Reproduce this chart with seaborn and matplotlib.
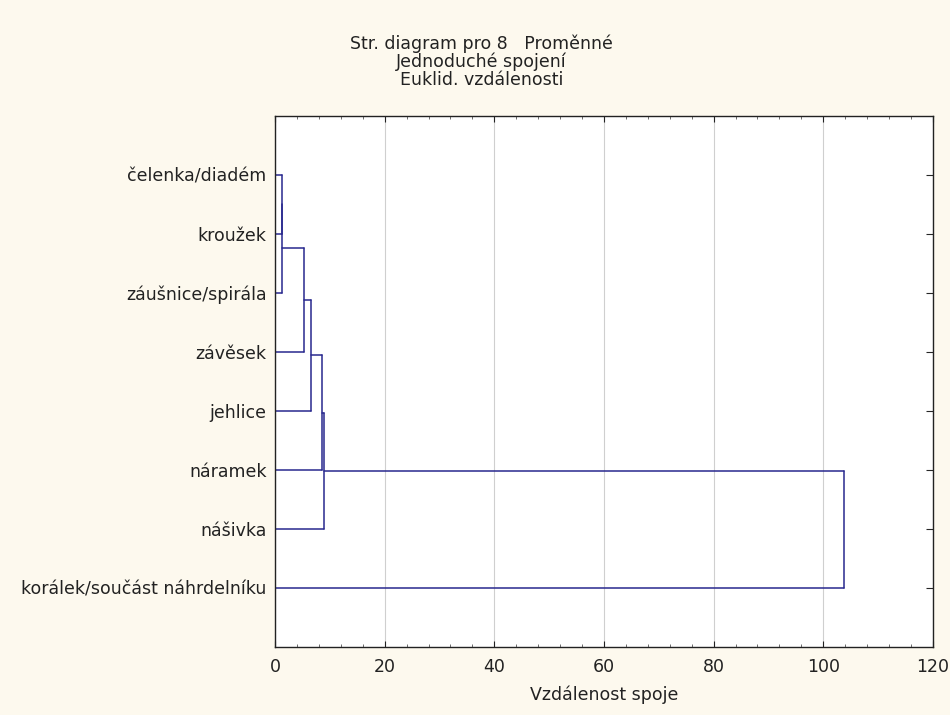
import matplotlib
matplotlib.use("Agg")
import matplotlib.pyplot as plt
import seaborn as sns
import pandas as pd
import numpy as np
from matplotlib.ticker import MultipleLocator

# ---- data ----
leaves = ["čelenka/diadém", "kroužek", "záušnice/spirála", "závěsek",
          "jehlice", "náramek", "nášivka", "korálek/součást náhrdelníku"]
# merges (scipy-style cluster ids: leaves 0..7, new clusters 8..)
merge_pairs = [(0, 1), (8, 2), (9, 3), (10, 4), (11, 5), (12, 6), (13, 7)]
merge_heights = [1.3, 1.3, 5.2, 6.6, 8.5, 9.0, 103.7]
x_ticks = [0, 20, 40, 60, 80, 100, 120]
title_lines = ["Str. diagram pro 8   Proměnné", "Jednoduché spojení", "Euklid. vzdálenosti"]
x_label = "Vzdálenost spoje"

# ---- build segments ----
pos = {i: float(i) for i in range(len(leaves))}
hgt = {i: 0.0 for i in range(len(leaves))}
rows = []
seg = 0
for k, ((a, b), h) in enumerate(zip(merge_pairs, merge_heights)):
    for c in (a, b):
        rows.append(dict(seg=seg, x=hgt[c], y=pos[c])); rows.append(dict(seg=seg, x=h, y=pos[c])); seg += 1
    rows.append(dict(seg=seg, x=h, y=pos[a])); rows.append(dict(seg=seg, x=h, y=pos[b])); seg += 1
    new = len(leaves) + k
    pos[new] = (pos[a] + pos[b]) / 2
    hgt[new] = h
df = pd.DataFrame(rows)

# ---- style ----
sns.set_style("white")
plt.rcParams["font.family"] = ["DejaVu Sans"]
bg = "#FDF9EE"
fs = 12.5
fig = plt.figure(figsize=(9.5, 7.15), dpi=100, facecolor=bg)
ax = fig.add_axes([0.2895, 0.0955, 0.6925, 0.7427])
ax.set_facecolor("white")

sns.lineplot(data=df, x="x", y="y", units="seg", estimator=None, sort=False,
             color="#28288E", linewidth=1.1, ax=ax, legend=False)

ax.set_xlim(0, 120)
ax.set_ylim(8, -1)
ax.set_xticks(x_ticks)
ax.xaxis.set_minor_locator(MultipleLocator(4))
ax.set_yticks(range(len(leaves)))
ax.set_yticklabels(leaves)
ax.grid(axis="x", which="major", color="#CFCFCF", linewidth=0.8)
ax.set_axisbelow(True)
ax.tick_params(axis="x", which="major", direction="in", length=4, top=True, bottom=True,
               labelsize=fs, colors="#222222", pad=8)
ax.tick_params(axis="x", which="minor", direction="in", length=2.5, top=True, bottom=True, color="#555555")
ax.tick_params(axis="y", direction="in", length=5, left=False, right=True,
               labelleft=True, labelsize=fs, labelcolor="#222222", pad=6)
for s in ax.spines.values():
    s.set_color("#222222"); s.set_linewidth(1.0)
ax.set_xlabel(x_label, fontsize=fs, color="#222222", labelpad=7)
ax.set_ylabel("")

for i, t in enumerate(title_lines):
    fig.text(0.507, 1 - (44 + i * 18) / 715, t, ha="center", va="center", fontsize=12.5, color="#222222")

fig.savefig("out.png", dpi=100, facecolor=bg)
